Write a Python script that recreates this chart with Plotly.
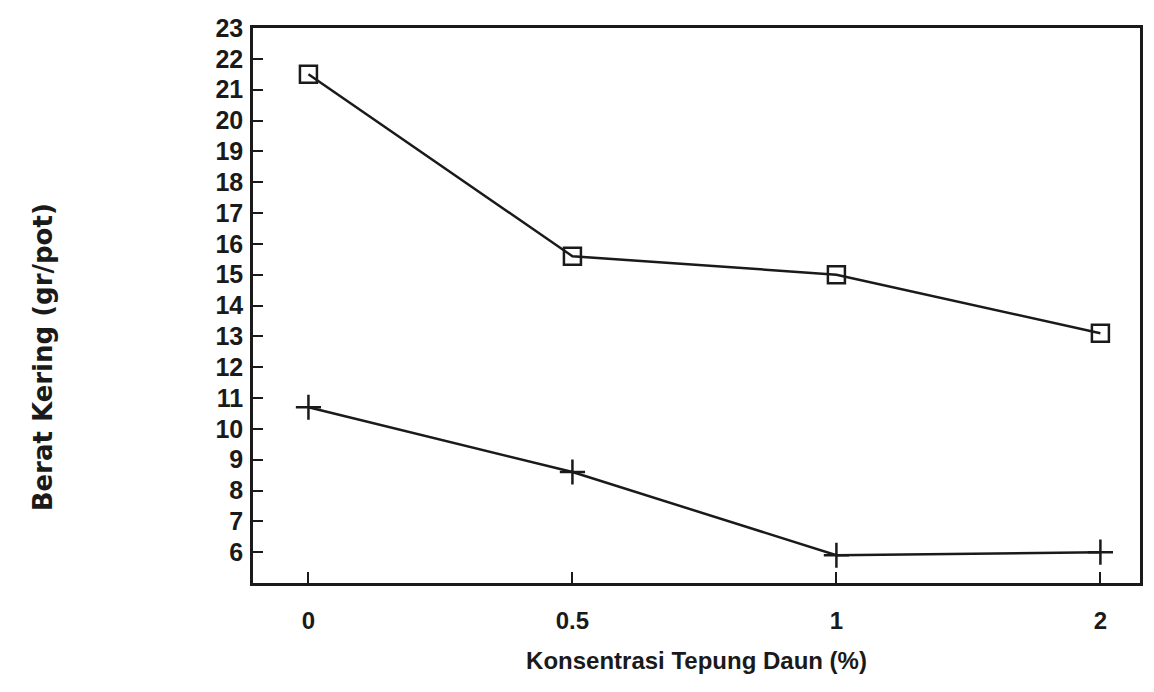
import plotly.graph_objects as go

categories = ["0", "0.5", "1", "2"]
series_square = [21.5, 15.6, 15.0, 13.1]
series_plus = [10.7, 8.6, 5.9, 6.0]
y_ticks = list(range(6, 24))

INK = "#1a1a1a"

fig = go.Figure()
fig.add_trace(go.Scatter(
    x=categories, y=series_square, mode="lines+markers",
    line=dict(color=INK, width=2.5),
    marker=dict(symbol="square-open", size=17, color=INK, line=dict(width=2.5)),
    showlegend=False,
))
fig.add_trace(go.Scatter(
    x=categories, y=series_plus, mode="lines+markers",
    line=dict(color=INK, width=2.5),
    marker=dict(symbol="cross-thin-open", size=18, color=INK, line=dict(width=2.5)),
    showlegend=False,
))

fig.update_layout(
    width=1154, height=692,
    margin=dict(l=245, r=22, t=20, b=117),
    paper_bgcolor="white", plot_bgcolor="white",
    font=dict(family="Liberation Sans", color=INK),
    xaxis=dict(
        type="category", range=[-0.21, 3.15],
        showline=True, linecolor=INK, linewidth=2.5, mirror=True,
        ticks="inside", ticklen=11, tickwidth=2, tickcolor=INK,
        showgrid=False, zeroline=False,
        tickfont=dict(family="Liberation Sans", size=24, color=INK, weight="bold"),
        ticklabelstandoff=14,
        title=dict(text="Konsentrasi Tepung Daun (%)",
                   font=dict(family="Liberation Sans", size=24, color=INK, weight="bold"),
                   standoff=20),
        automargin=False,
    ),
    yaxis=dict(
        range=[5, 23], tickvals=y_ticks, ticktext=[str(v) for v in y_ticks],
        showline=True, linecolor=INK, linewidth=2.5, mirror=True,
        ticks="inside", ticklen=10, tickwidth=2, tickcolor=INK,
        showgrid=False, zeroline=False,
        tickfont=dict(family="Liberation Sans", size=25, color=INK, weight="bold"),
        ticklabelstandoff=2,
        automargin=False,
    ),
    annotations=[dict(
        text="Berat Kering (gr/pot)", textangle=-90,
        xref="paper", yref="paper", x=-0.2365, y=0.407,
        xanchor="center", yanchor="middle", showarrow=False,
        font=dict(family="DejaVu Sans", size=26, color=INK, weight="bold"),
    )],
)

fig.write_html("out.html")
